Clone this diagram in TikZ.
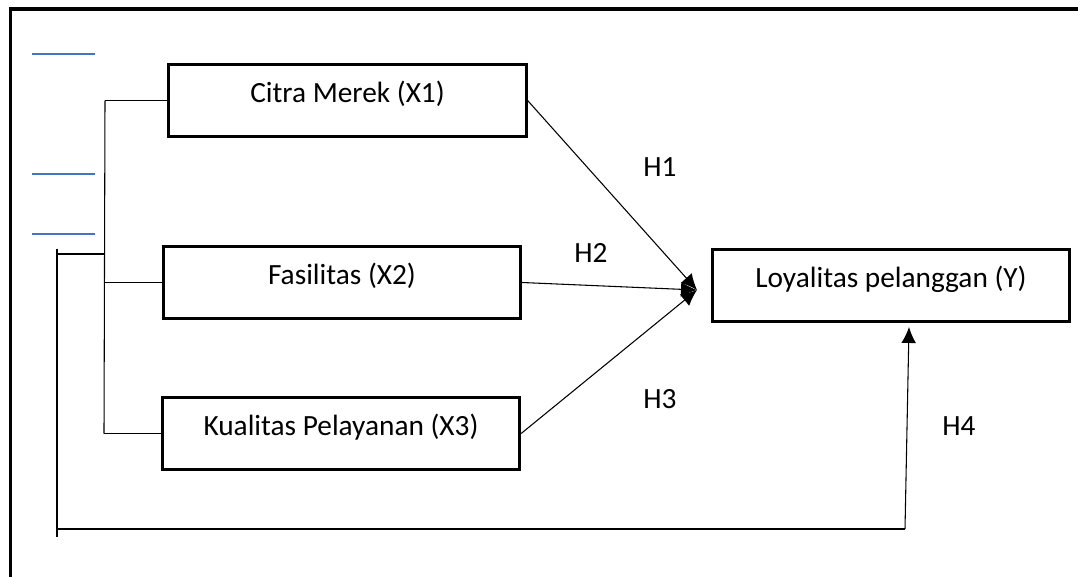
\documentclass[tikz,border=0pt]{standalone}
\usepackage{fontspec}
\setmainfont{Carlito}
\usetikzlibrary{arrows.meta}
\definecolor{wordblue}{HTML}{4472C4}
\begin{document}
\begin{tikzpicture}[x=0.75pt,y=-0.75pt,
  varbox/.style={draw, line width=2.2pt, minimum width=268pt, minimum height=54pt,
     inner sep=0pt, font=\fontsize{22}{26}\selectfont, text height=16pt, text depth=13pt},
  hlabel/.style={anchor=base west, inner sep=0pt, font=\fontsize{22}{26}\selectfont},
  thin/.style={line width=0.8pt},
  arr/.style={thin, -{Latex[length=12pt,width=11pt]}},
  blueln/.style={wordblue, line width=1.6pt}]
\useasboundingbox (0,0) rectangle (1078,576);
% outer frame
\draw[line width=2.4pt] (10.5,580) -- (10.5,9) -- (1082,9);
% blue short lines
\draw[blueln] (32,54) -- (95,54);
\draw[blueln] (32,174) -- (95,174);
\draw[blueln] (32,234) -- (95,234);
% boxes
\node[varbox] (x1) at (347.5,100.5) {Citra Merek (X1)};
\node[varbox] (x2) at (342,282.5) {Fasilitas (X2)};
\node[varbox] (x3) at (341,433.5) {Kualitas Pelayanan (X3)};
\node[varbox] (y) at (891,285.5) {Loyalitas pelanggan (Y)};
% bracket
\coordinate (b1) at (105,100.5);
\coordinate (b2) at (104,282.5);
\coordinate (b3) at (104,433.5);
\coordinate (b4) at (105,254);
\coordinate (c1) at (57,254);
\coordinate (c0) at (57,249);
\coordinate (c2) at (57,529);
\coordinate (c3) at (57,537);
\coordinate (c4) at (905,529);
\coordinate (m) at (697,290);
\draw[thin] (b1) -- (x1.west);
\draw[thin] (b1) -- (b3);
\draw[thin] (b2) -- (x2.west);
\draw[thin] (b3) -- (x3.west);
\draw[thin] (c1) -- (b4);
\draw[thin] (c0) -- (c3);
\draw[thin] (c2) -- (c4);
% arrows
\draw[arr] (x1.east) -- (m);
\draw[arr] (x2.east) -- (m);
\draw[arr] (x3.east) -- (m);
\draw[arr] (c4) -- ([xshift=3pt,yshift=-3pt]y.south west -| c4);
% labels
\node[hlabel] (h1) at (643,176) {H1};
\node[hlabel] (h2) at (574,262) {H2};
\node[hlabel] (h3) at (643,408) {H3};
\node[hlabel] (h4) at (942,435) {H4};
\end{tikzpicture}
\end{document}
